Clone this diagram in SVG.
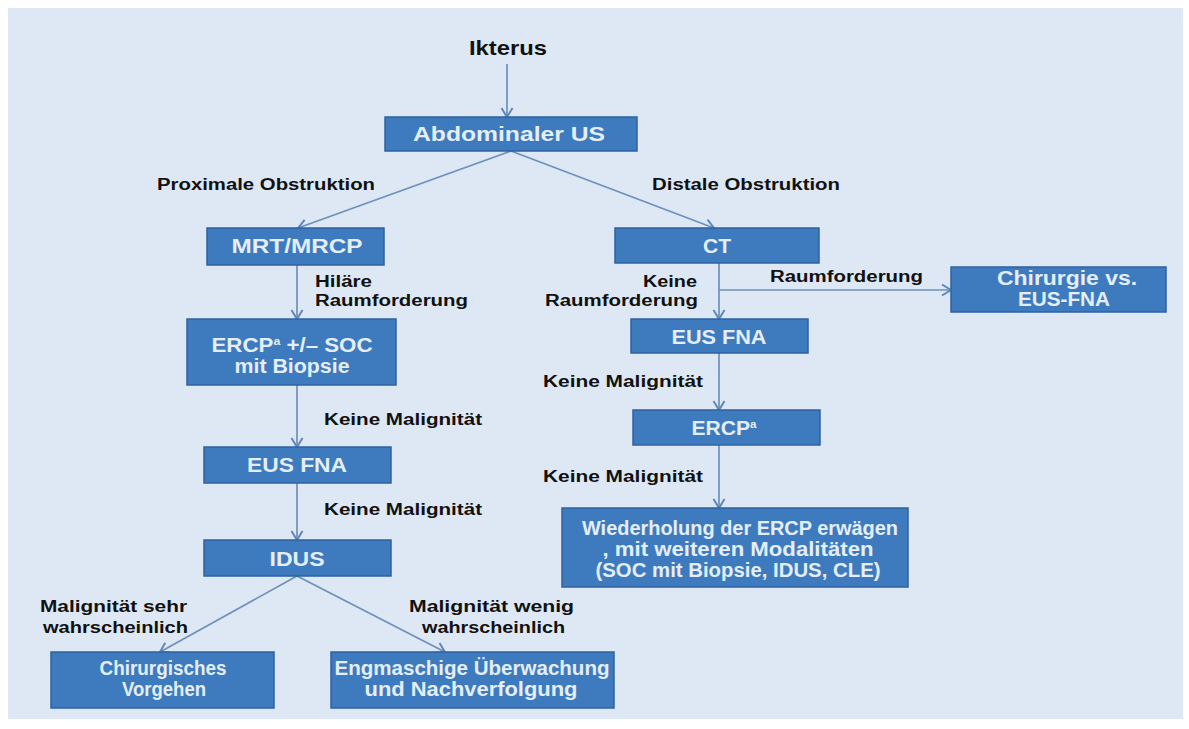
<svg xmlns="http://www.w3.org/2000/svg" width="1189" height="729" viewBox="0 0 1189 729">
<defs>
<marker id="arr" markerWidth="14" markerHeight="14" refX="11" refY="7" orient="auto" markerUnits="userSpaceOnUse">
<path d="M2,1.5 L11,7 L2,12.5" fill="none" stroke="#5f88ba" stroke-width="2"/>
</marker>
<style>
.box{fill:#3e7bbe;stroke:#2f62a0;stroke-width:1.5}
.bt{font-family:"Liberation Sans",Arial,sans-serif;font-weight:700;font-size:20px;fill:#e4eef9;text-anchor:middle}
.lb{font-family:"Liberation Sans",Arial,sans-serif;font-weight:700;font-size:16px;fill:#111}
.c{fill:none;stroke:#6e90bb;stroke-width:1.7}
.ca{fill:none;stroke:#6e90bb;stroke-width:1.7;marker-end:url(#arr)}
</style>
</defs>
<rect x="8" y="8" width="1175" height="711" fill="#dde8f4"/>

<g id="connectors">
<line class="ca" x1="507" y1="64" x2="507" y2="117"/>
<line class="ca" x1="511" y1="151" x2="298" y2="228"/>
<line class="ca" x1="511" y1="151" x2="714" y2="228"/>
<line class="ca" x1="297" y1="265" x2="297" y2="319"/>
<line class="ca" x1="297" y1="385" x2="297" y2="447"/>
<line class="ca" x1="297" y1="483" x2="297" y2="540"/>
<line class="ca" x1="297" y1="576" x2="160" y2="652"/>
<line class="ca" x1="297" y1="576" x2="445" y2="652"/>
<line class="ca" x1="719" y1="263" x2="719" y2="319"/>
<line class="ca" x1="719" y1="290" x2="951" y2="290"/>
<line class="ca" x1="719" y1="353" x2="719" y2="410"/>
<line class="ca" x1="719" y1="445" x2="719" y2="508"/>
</g>

<g id="labels">
<text class="lb" x="157" y="190" textLength="218" lengthAdjust="spacingAndGlyphs">Proximale Obstruktion</text>
<text class="lb" x="652" y="190" textLength="188" lengthAdjust="spacingAndGlyphs">Distale Obstruktion</text>
<text class="lb" x="315" y="287" textLength="57" lengthAdjust="spacingAndGlyphs">Hiläre</text>
<text class="lb" x="315" y="306" textLength="153" lengthAdjust="spacingAndGlyphs">Raumforderung</text>
<text class="lb" x="324" y="425" textLength="158" lengthAdjust="spacingAndGlyphs">Keine Malignität</text>
<text class="lb" x="324" y="515" textLength="158" lengthAdjust="spacingAndGlyphs">Keine Malignität</text>
<text class="lb" x="643" y="287" textLength="54" lengthAdjust="spacingAndGlyphs">Keine</text>
<text class="lb" x="545" y="306" textLength="153" lengthAdjust="spacingAndGlyphs">Raumforderung</text>
<text class="lb" x="770" y="282" textLength="153" lengthAdjust="spacingAndGlyphs">Raumforderung</text>
<text class="lb" x="543" y="387" textLength="160" lengthAdjust="spacingAndGlyphs">Keine Malignität</text>
<text class="lb" x="543" y="482" textLength="160" lengthAdjust="spacingAndGlyphs">Keine Malignität</text>
<text class="lb" x="40" y="612" textLength="147" lengthAdjust="spacingAndGlyphs">Malignität sehr</text>
<text class="lb" x="43" y="633" textLength="145" lengthAdjust="spacingAndGlyphs">wahrscheinlich</text>
<text class="lb" x="409" y="612" textLength="165" lengthAdjust="spacingAndGlyphs">Malignität wenig</text>
<text class="lb" x="422" y="633" textLength="143" lengthAdjust="spacingAndGlyphs">wahrscheinlich</text>
</g>

<g id="ikterus">
<text x="508" y="55" font-family="Liberation Sans, Arial, sans-serif" font-weight="700" font-size="21" fill="#111" text-anchor="middle" textLength="78" lengthAdjust="spacingAndGlyphs">Ikterus</text>
</g>

<g id="abdominaler-us">
<rect class="box" x="385" y="117" width="252" height="34"/>
<text class="bt" x="509" y="141" font-size="20.5" textLength="192" lengthAdjust="spacingAndGlyphs">Abdominaler US</text>
</g>

<g id="mrt-mrcp">
<rect class="box" x="207" y="228" width="177" height="37"/>
<text class="bt" x="297" y="253" font-size="19" textLength="131" lengthAdjust="spacingAndGlyphs">MRT/MRCP</text>
</g>

<g id="ct">
<rect class="box" x="615" y="228" width="204" height="35"/>
<text class="bt" x="717" y="253" font-size="19" textLength="28" lengthAdjust="spacingAndGlyphs">CT</text>
</g>

<g id="ercp-soc">
<rect class="box" x="187" y="319" width="209" height="66"/>
<text class="bt" x="292" y="352" font-size="18.5" textLength="161" lengthAdjust="spacingAndGlyphs">ERCP<tspan font-size="11" dy="-7">a</tspan><tspan dy="7"> +/– SOC</tspan></text>
<text class="bt" x="292" y="373" font-size="18.5" textLength="115" lengthAdjust="spacingAndGlyphs">mit Biopsie</text>
</g>

<g id="eus-fna-left">
<rect class="box" x="204" y="447" width="187" height="36"/>
<text class="bt" x="297" y="472" font-size="19" textLength="100" lengthAdjust="spacingAndGlyphs">EUS FNA</text>
</g>

<g id="idus">
<rect class="box" x="204" y="540" width="187" height="36"/>
<text class="bt" x="297" y="566" font-size="19" textLength="55" lengthAdjust="spacingAndGlyphs">IDUS</text>
</g>

<g id="chirurgisches-vorgehen">
<rect class="box" x="51" y="652" width="223" height="56"/>
<text class="bt" x="163" y="675" font-size="17.5" textLength="127" lengthAdjust="spacingAndGlyphs">Chirurgisches</text>
<text class="bt" x="164" y="696" font-size="17.5" textLength="84" lengthAdjust="spacingAndGlyphs">Vorgehen</text>
</g>

<g id="engmaschige-ueberwachung">
<rect class="box" x="331" y="652" width="283" height="56"/>
<text class="bt" x="472" y="675" font-size="17.5" textLength="275" lengthAdjust="spacingAndGlyphs">Engmaschige Überwachung</text>
<text class="bt" x="471" y="696" font-size="17.5" textLength="213" lengthAdjust="spacingAndGlyphs">und Nachverfolgung</text>
</g>

<g id="eus-fna-right">
<rect class="box" x="631" y="319" width="177" height="34"/>
<text class="bt" x="719" y="344" font-size="19" textLength="95" lengthAdjust="spacingAndGlyphs">EUS FNA</text>
</g>

<g id="chirurgie-vs-eus-fna">
<rect class="box" x="951" y="267" width="215" height="45"/>
<text class="bt" x="1067" y="285" font-size="17.5" textLength="140" lengthAdjust="spacingAndGlyphs">Chirurgie vs.</text>
<text class="bt" x="1064" y="306" font-size="17.5" textLength="92" lengthAdjust="spacingAndGlyphs">EUS-FNA</text>
</g>

<g id="ercp-right">
<rect class="box" x="633" y="410" width="187" height="35"/>
<text class="bt" x="724" y="435" font-size="19" textLength="65" lengthAdjust="spacingAndGlyphs">ERCP<tspan font-size="11" dy="-7">a</tspan></text>
</g>

<g id="wiederholung">
<rect class="box" x="562" y="508" width="346" height="79"/>
<text class="bt" x="740" y="535" font-size="17.5" textLength="316" lengthAdjust="spacingAndGlyphs">Wiederholung der ERCP erwägen</text>
<text class="bt" x="738" y="556" font-size="17.5" textLength="271" lengthAdjust="spacingAndGlyphs">, mit weiteren Modalitäten</text>
<text class="bt" x="738" y="577" font-size="17.5" textLength="285" lengthAdjust="spacingAndGlyphs">(SOC mit Biopsie, IDUS, CLE)</text>
</g>
</svg>
